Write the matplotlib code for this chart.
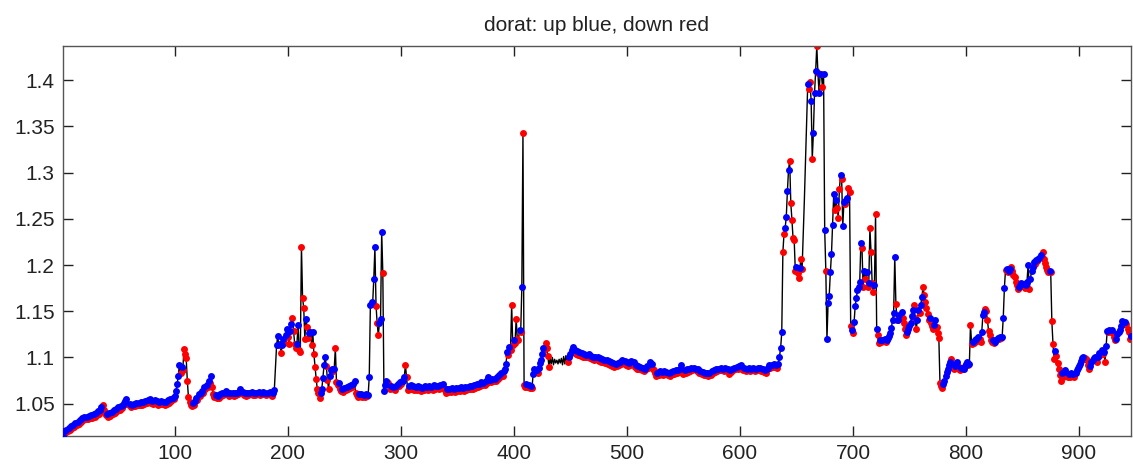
import numpy as np
import matplotlib
matplotlib.use("Agg")
import matplotlib.pyplot as plt
from matplotlib.ticker import FuncFormatter, FixedLocator

# ---------------- data ----------------
seg_a = [  # 1-100
    1.015, 1.020, 1.018, 1.022, 1.020, 1.024, 1.022, 1.026, 1.024, 1.027,
    1.025, 1.029, 1.027, 1.030, 1.028, 1.032, 1.030, 1.034, 1.032, 1.036,
    1.033, 1.036, 1.033, 1.037, 1.034, 1.038, 1.035, 1.039, 1.036, 1.040,
    1.038, 1.042, 1.039, 1.043, 1.046, 1.049, 1.043, 1.040, 1.038, 1.039,
    1.036, 1.040, 1.037, 1.041, 1.039, 1.043, 1.040, 1.044, 1.042, 1.046,
    1.043, 1.047, 1.045, 1.049, 1.051, 1.053, 1.055, 1.050, 1.048, 1.050,
    1.046, 1.049, 1.047, 1.050, 1.047, 1.051, 1.048, 1.051, 1.049, 1.052,
    1.049, 1.052, 1.050, 1.053, 1.051, 1.054, 1.052, 1.055, 1.051, 1.053,
    1.050, 1.054, 1.051, 1.053, 1.049, 1.052, 1.050, 1.053, 1.050, 1.052,
    1.049, 1.052, 1.050, 1.054, 1.051, 1.055, 1.053, 1.056, 1.055, 1.058]
seg_b = [  # 101-140
    1.064, 1.071, 1.080, 1.092, 1.083, 1.090, 1.086, 1.109, 1.104, 1.099,
    1.075, 1.057, 1.052, 1.049, 1.047, 1.051, 1.049, 1.053, 1.056, 1.054,
    1.060, 1.058, 1.061, 1.064, 1.062, 1.068, 1.066, 1.070, 1.068, 1.074,
    1.072, 1.080, 1.068, 1.060, 1.057, 1.059, 1.056, 1.058, 1.056, 1.060]
seg_c = [  # 141-188
    1.058, 1.062, 1.059, 1.061, 1.064, 1.060, 1.062, 1.058, 1.061, 1.059,
    1.062, 1.058, 1.061, 1.059, 1.062, 1.060, 1.063, 1.066, 1.061, 1.063,
    1.059, 1.062, 1.058, 1.061, 1.059, 1.062, 1.060, 1.063, 1.059, 1.061,
    1.059, 1.062, 1.060, 1.063, 1.059, 1.061, 1.060, 1.063, 1.060, 1.062,
    1.059, 1.062, 1.060, 1.063, 1.059, 1.058, 1.061, 1.065]
seg_d = [  # 189-242
    1.090, 1.113, 1.123, 1.113, 1.115, 1.105, 1.113, 1.120, 1.116, 1.124,
    1.131, 1.122, 1.115, 1.129, 1.136, 1.143, 1.129, 1.115, 1.110, 1.115,
    1.135, 1.108, 1.106, 1.220, 1.164, 1.154, 1.120, 1.142, 1.133, 1.121,
    1.126, 1.128, 1.113, 1.128, 1.104, 1.090, 1.077, 1.066, 1.061, 1.056,
    1.061, 1.066, 1.078, 1.092, 1.100, 1.091, 1.076, 1.066, 1.080, 1.086,
    1.088, 1.085, 1.088, 1.110]
seg_e = [  # 243-302
    1.073, 1.070, 1.072, 1.066, 1.064, 1.066, 1.063, 1.067, 1.065, 1.068,
    1.066, 1.069, 1.067, 1.070, 1.068, 1.071, 1.075, 1.061, 1.059, 1.057,
    1.060, 1.058, 1.060, 1.057, 1.059, 1.057, 1.060, 1.058, 1.059, 1.079,
    1.157, 1.160, 1.158, 1.185, 1.219, 1.156, 1.137, 1.124, 1.137, 1.142,
    1.236, 1.191, 1.064, 1.070, 1.075, 1.073, 1.072, 1.066, 1.069, 1.067,
    1.068, 1.066, 1.065, 1.069, 1.071, 1.069, 1.073, 1.071, 1.074, 1.075]
seg_f = [  # 303-431
    1.079, 1.092, 1.079, 1.065, 1.069, 1.066, 1.070, 1.066, 1.069, 1.065,
    1.068, 1.065, 1.069, 1.066, 1.068, 1.064, 1.067, 1.065, 1.069, 1.066,
    1.068, 1.065, 1.069, 1.066, 1.068, 1.065, 1.070, 1.066, 1.069, 1.067,
    1.069, 1.066, 1.070, 1.067, 1.071, 1.067, 1.065, 1.062, 1.066, 1.063,
    1.066, 1.063, 1.067, 1.064, 1.066, 1.063, 1.067, 1.064, 1.067, 1.064,
    1.068, 1.065, 1.067, 1.064, 1.068, 1.065, 1.068, 1.066, 1.069, 1.066,
    1.069, 1.066, 1.070, 1.067, 1.071, 1.068, 1.071, 1.069, 1.073, 1.070,
    1.072, 1.070, 1.074, 1.072, 1.079, 1.074, 1.076, 1.073, 1.077, 1.074,
    1.077, 1.075, 1.079, 1.077, 1.081, 1.079, 1.083, 1.080, 1.085, 1.088,
    1.093, 1.106, 1.103, 1.111, 1.108, 1.157, 1.113, 1.119, 1.116, 1.142,
    1.120, 1.119, 1.130, 1.127, 1.176, 1.343, 1.070, 1.068, 1.071, 1.068,
    1.070, 1.067, 1.069, 1.067, 1.082, 1.088, 1.084, 1.086, 1.083, 1.089,
    1.094, 1.097, 1.104, 1.110, 1.108, 1.116, 1.110, 1.102, 1.090]
seg_g = [  # 432-447 (no direction marks)
    1.099, 1.093, 1.100, 1.092, 1.098, 1.094, 1.097, 1.093,
    1.098, 1.094, 1.099, 1.092, 1.101, 1.093, 1.102, 1.096]
seg_h = [  # 448-636
    1.095, 1.101, 1.104, 1.108, 1.111, 1.106, 1.108, 1.104, 1.107, 1.103,
    1.106, 1.102, 1.105, 1.101, 1.104, 1.100, 1.103, 1.101, 1.104, 1.099,
    1.102, 1.098, 1.101, 1.097, 1.100, 1.098, 1.101, 1.096, 1.099, 1.095,
    1.098, 1.095, 1.097, 1.094, 1.097, 1.093, 1.096, 1.092, 1.095, 1.091,
    1.094, 1.090, 1.093, 1.091, 1.094, 1.092, 1.095, 1.093, 1.097, 1.094,
    1.096, 1.092, 1.095, 1.091, 1.094, 1.092, 1.096, 1.093, 1.095, 1.090,
    1.092, 1.088, 1.091, 1.087, 1.090, 1.086, 1.089, 1.085, 1.088, 1.087,
    1.091, 1.089, 1.095, 1.091, 1.093, 1.088, 1.086, 1.083, 1.080, 1.083,
    1.081, 1.085, 1.082, 1.084, 1.081, 1.085, 1.082, 1.084, 1.081, 1.083,
    1.080, 1.084, 1.082, 1.085, 1.082, 1.086, 1.083, 1.086, 1.084, 1.087,
    1.092, 1.084, 1.082, 1.086, 1.083, 1.087, 1.084, 1.088, 1.085, 1.089,
    1.086, 1.089, 1.087, 1.088, 1.085, 1.087, 1.083, 1.085, 1.082, 1.084,
    1.081, 1.083, 1.081, 1.083, 1.080, 1.083, 1.081, 1.085, 1.083, 1.086,
    1.084, 1.087, 1.085, 1.088, 1.086, 1.089, 1.086, 1.088, 1.085, 1.089,
    1.086, 1.088, 1.082, 1.086, 1.084, 1.088, 1.086, 1.089, 1.087, 1.090,
    1.088, 1.091, 1.089, 1.092, 1.088, 1.086, 1.089, 1.085, 1.088, 1.086,
    1.089, 1.085, 1.088, 1.086, 1.089, 1.085, 1.088, 1.086, 1.089, 1.087,
    1.089, 1.085, 1.087, 1.084, 1.086, 1.083, 1.087, 1.089, 1.092, 1.089,
    1.092, 1.090, 1.093, 1.090, 1.092, 1.089, 1.093, 1.101, 1.110]
seg_i = [  # 637-740
    1.127, 1.214, 1.234, 1.240, 1.252, 1.280, 1.303, 1.313, 1.267, 1.249,
    1.229, 1.227, 1.194, 1.198, 1.191, 1.186, 1.197, 1.207, 1.196, 1.232,
    1.270, 1.312, 1.352, 1.396, 1.390, 1.398, 1.378, 1.315, 1.343, 1.386,
    1.410, 1.437, 1.408, 1.386, 1.407, 1.407, 1.393, 1.407, 1.238, 1.194,
    1.120, 1.159, 1.167, 1.192, 1.212, 1.243, 1.277, 1.259, 1.270, 1.262,
    1.251, 1.282, 1.297, 1.293, 1.242, 1.268, 1.266, 1.270, 1.272, 1.283,
    1.279, 1.134, 1.130, 1.126, 1.138, 1.156, 1.164, 1.173, 1.176, 1.182,
    1.224, 1.218, 1.176, 1.194, 1.185, 1.192, 1.176, 1.180, 1.240, 1.214,
    1.180, 1.171, 1.178, 1.255, 1.131, 1.124, 1.116, 1.119, 1.117, 1.119,
    1.118, 1.120, 1.117, 1.119, 1.121, 1.123, 1.126, 1.132, 1.140, 1.148,
    1.209, 1.158, 1.140, 1.141]
seg_j = [  # 741-946
    1.146, 1.143, 1.149, 1.143, 1.137, 1.131, 1.124, 1.128, 1.131, 1.134,
    1.137, 1.145, 1.151, 1.157, 1.143, 1.131, 1.140, 1.151, 1.148, 1.157,
    1.165, 1.176, 1.168, 1.160, 1.154, 1.147, 1.140, 1.143, 1.137, 1.134,
    1.131, 1.135, 1.140, 1.133, 1.126, 1.121, 1.072, 1.069, 1.067, 1.071,
    1.075, 1.080, 1.084, 1.088, 1.092, 1.095, 1.098, 1.092, 1.088, 1.091,
    1.093, 1.095, 1.091, 1.088, 1.086, 1.089, 1.087, 1.088, 1.091, 1.093,
    1.095, 1.092, 1.093, 1.135, 1.115, 1.117, 1.116, 1.119, 1.120, 1.118,
    1.122, 1.120, 1.117, 1.128, 1.146, 1.149, 1.152, 1.150, 1.140, 1.129,
    1.124, 1.119, 1.117, 1.119, 1.116, 1.117, 1.119, 1.121, 1.120, 1.122,
    1.121, 1.122, 1.143, 1.175, 1.195, 1.196, 1.192, 1.194, 1.196, 1.198,
    1.193, 1.189, 1.187, 1.182, 1.178, 1.174, 1.176, 1.178, 1.180, 1.177,
    1.179, 1.175, 1.178, 1.182, 1.200, 1.174, 1.185, 1.193, 1.198, 1.203,
    1.201, 1.205, 1.204, 1.206, 1.208, 1.211, 1.209, 1.214, 1.207, 1.202,
    1.198, 1.195, 1.192, 1.193, 1.192, 1.139, 1.115, 1.098, 1.107, 1.102,
    1.094, 1.088, 1.081, 1.074, 1.083, 1.079, 1.084, 1.086, 1.081, 1.079,
    1.082, 1.079, 1.083, 1.080, 1.082, 1.079, 1.083, 1.086, 1.089, 1.091,
    1.093, 1.096, 1.099, 1.101, 1.099, 1.098, 1.097, 1.092, 1.088, 1.091,
    1.095, 1.097, 1.099, 1.101, 1.098, 1.095, 1.101, 1.105, 1.103, 1.108,
    1.104, 1.106, 1.095, 1.112, 1.129, 1.127, 1.130, 1.128, 1.130, 1.126,
    1.122, 1.119, 1.120, 1.125, 1.127, 1.130, 1.134, 1.139, 1.137, 1.136,
    1.138, 1.136, 1.131, 1.127, 1.120, 1.123]

# points whose mark colour in the reference differs from the plain step direction
red_points = [36, 108, 204, 212, 242, 304, 398, 402, 408, 428, 638, 639, 644,
              654, 662, 668, 688, 696, 715, 720, 754, 762, 787, 804, 817, 835,
              840, 868]
blue_points = [1, 285, 663, 670, 675, 677, 691, 699, 721]
unmarked_points = [189] + list(range(432, 448)) + [656, 657, 658, 659]

title_text = "dorat: up blue, down red"
x_ticks = [100, 200, 300, 400, 500, 600, 700, 800, 900]
y_ticks = [1.05, 1.1, 1.15, 1.2, 1.25, 1.3, 1.35, 1.4]

# ---------------- build ----------------
y = np.array(seg_a + seg_b + seg_c + seg_d + seg_e + seg_f + seg_g + seg_h
             + seg_i + seg_j)
n = len(y)
x = np.arange(1, n + 1)

step = np.diff(y, prepend=y[0])
direction = np.where(step > 0, 1, -1)
direction[np.array(red_points) - 1] = -1
direction[np.array(blue_points) - 1] = 1
direction[np.array(unmarked_points) - 1] = 0

plt.rcParams['font.family'] = ['Liberation Sans', 'DejaVu Sans']

fig = plt.figure(figsize=(11.33, 4.74), dpi=100)
ax = fig.add_axes([0.0556, 0.0802, 0.9426, 0.8228])

ax.plot(x, y, '-', color='black', lw=1.0, zorder=1)
dn = direction == -1
upm = direction == 1
ax.plot(x[dn], y[dn], 'o', color='#ff0000', ms=5, mew=0, zorder=2)
ax.plot(x[upm], y[upm], 'o', color='#0000ff', ms=5, mew=0, zorder=3)

ax.set_xlim(1, n)
ax.set_ylim(y.min(), y.max())
ax.xaxis.set_major_locator(FixedLocator(x_ticks))
ax.yaxis.set_major_locator(FixedLocator(y_ticks))
ax.yaxis.set_major_formatter(FuncFormatter(lambda v, p: "%g" % v))

ax.tick_params(direction='in', length=7, width=1, top=True, right=True,
               labelsize=15, colors='#222222', pad=6)
for s in ax.spines.values():
    s.set_color('#555555')
    s.set_linewidth(1.0)

ax.set_title(title_text, fontsize=15, pad=11, color='#222222')

fig.savefig("out.png", dpi=100)
